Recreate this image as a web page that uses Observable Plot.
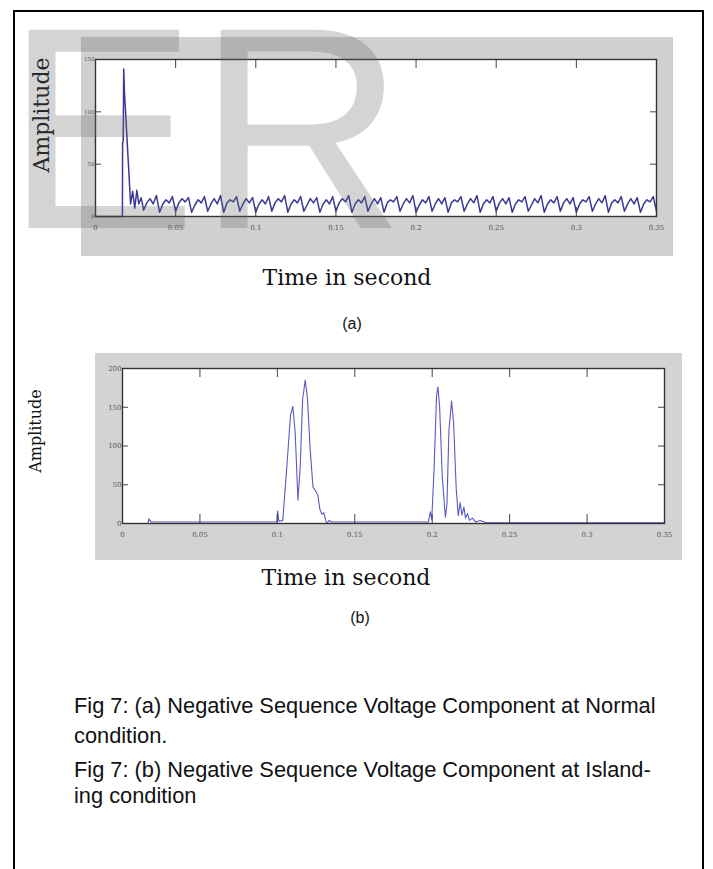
<!DOCTYPE html>
<html><head><meta charset="utf-8">
<script src="https://cdn.jsdelivr.net/npm/d3@7"></script>
<script src="https://cdn.jsdelivr.net/npm/@observablehq/plot@0.6"></script>
<style>
body{margin:0;background:#fff;}
#page{position:relative;width:713px;height:869px;overflow:hidden;background:#fff;}
.abs{position:absolute;}
.frame{left:13px;top:10px;width:687px;height:900px;border:2px solid #000;}
.serif{font-family:"DejaVu Serif",serif;color:#111;white-space:nowrap;line-height:1;}
.sans{font-family:"Liberation Sans",Arial,sans-serif;color:#111;white-space:nowrap;line-height:1;}
.c{transform:translate(-50%,-50%);}
.r{transform:translate(-50%,-50%) rotate(-90deg);}
</style></head><body><div id="page">
<div class="abs frame"></div>
<div id="chartA" class="abs" style="left:81px;top:37px;"></div>
<div id="chartB" class="abs" style="left:95px;top:353px;"></div>
<div class="abs serif r" style="left:42px;top:115px;font-size:22px;">Amplitude</div>
<div class="abs serif c" style="left:347px;top:278px;font-size:22px;">Time in second</div>
<div class="abs sans c" style="left:352px;top:324px;font-size:16px;">(a)</div>
<div class="abs serif r" style="left:36px;top:431px;font-size:16px;">Amplitude</div>
<div class="abs serif c" style="left:346px;top:578px;font-size:22px;">Time in second</div>
<div class="abs sans c" style="left:360px;top:618px;font-size:16px;">(b)</div>
<div class="abs sans" style="left:74px;top:695px;font-size:21.8px;">Fig 7: (a) Negative Sequence Voltage Component at Normal</div>
<div class="abs sans" style="left:74px;top:725px;font-size:21.8px;">condition.</div>
<div class="abs sans" style="left:74px;top:759px;font-size:21.8px;">Fig 7: (b) Negative Sequence Voltage Component at Island-</div>
<div class="abs sans" style="left:74px;top:785px;font-size:21.8px;">ing condition</div>
<svg class="abs" style="left:0;top:-50px;pointer-events:none;overflow:visible" width="713" height="360">
  <text x="5" y="278" font-family="Liberation Sans, Arial, sans-serif" font-size="288" fill="rgb(100,100,100)" fill-opacity="0.28">ER</text>
</svg>
</div>
<script>
// ---- shared axis ticks ----
const xTicks = [0, 0.05, 0.1, 0.15, 0.2, 0.25, 0.3, 0.35];
const xLabels = ["0", "0.05", "0.1", "0.15", "0.2", "0.25", "0.3", "0.35"];
const yTicksA = [0, 50, 100, 150];
const yLabelsA = ["0", "50", "100", "150"];
const yTicksB = [0, 50, 100, 150, 200];
const yLabelsB = ["0", "50", "100", "150", "200"];

// ---- Chart (a): normal condition ----
// initial transient (time s, amplitude)
const timeA0 = [0, 0.0168, 0.0169, 0.0173, 0.0176, 0.0181, 0.0219, 0.0232, 0.0245, 0.0258, 0.027, 0.0285];
const ampA0  = [0, 0,      70,     72,     141,    118,    12,     24,     8,      25,     12,    18];
// steady ripple sampled every 0.002 s from t = 0.030 s
const rippleStartA = 0.030;
const rippleStepA = 0.002;
const rippleA = [
  6,13,17,12,20, 4,12,16,13,19, 5,13,17,14,18, 4,11,16,13,19,
  5,12,17,12,20, 4,13,16,14,19, 5,12,17,13,18, 4,12,16,12,19,
  5,13,17,14,20, 4,12,16,13,19, 5,11,17,13,18, 4,12,16,12,19,
  5,13,17,14,20, 4,12,16,13,19, 5,12,17,12,18, 4,13,16,14,19,
  5,12,17,13,20, 4,11,16,13,19, 5,12,17,12,18, 4,13,16,14,19,
  5,12,17,13,20, 4,12,16,13,19, 5,13,17,12,18, 4,12,16,14,19,
  5,11,17,13,20, 4,12,16,13,19, 5,13,17,12,18, 4,12,16,14,19,
  5,12,17,13,20, 4,13,16,13,19, 5,12,17,12,18, 4,12,16,14,19,
  5
];

// ---- Chart (b): islanding condition ----
const timeB = [0, 0.0165, 0.017, 0.0185, 0.0995, 0.1002, 0.101, 0.1035, 0.106, 0.1085, 0.110, 0.1115, 0.1133, 0.1148, 0.1163, 0.118, 0.1195, 0.1212, 0.123, 0.1248, 0.1262, 0.1275, 0.1288, 0.130, 0.1312, 0.132, 0.1335, 0.135,
  0.1975, 0.1988, 0.1997, 0.2012, 0.2028, 0.2037, 0.2048, 0.2065, 0.2085, 0.2095, 0.2108, 0.2125, 0.2138, 0.2155, 0.2168, 0.218, 0.2192, 0.2205, 0.2215, 0.2228, 0.224, 0.226, 0.228, 0.231, 0.235, 0.35];
const ampB = [0, 0, 6, 2, 2, 16, 3, 4, 70, 140, 151, 118, 30, 75, 160, 185, 160, 95, 47, 42, 36, 18, 12, 14, 4, 0, 4, 2,
  2, 15, 5, 70, 165, 176, 150, 60, 8, 25, 120, 158, 130, 45, 10, 27, 11, 21, 7, 13, 4, 7, 2, 4, 1, 1];

const dataA = timeA0.map((t, i) => ({t, v: ampA0[i]}))
  .concat(rippleA.map((v, i) => ({t: rippleStartA + i * rippleStepA, v})));
const dataB = timeB.map((t, i) => ({t, v: ampB[i]}));

const lab = (ticks, labels) => d => labels[ticks.indexOf(d)] ?? "";

function matlabPlot(opts) {
  const {data, width, height, mL, mR, mT, mB, yDomain, yTicks, yLabels, stroke, strokeWidth, bg, yFont} = opts;
  const iw = width - mL - mR, ih = height - mT - mB;
  const tx = 9, ty = 6; // inward tick lengths
  return Plot.plot({
    width, height,
    marginLeft: mL, marginRight: mR, marginTop: mT, marginBottom: mB,
    style: {background: bg, fontFamily: "DejaVu Serif, serif", fontSize: "7px", color: "#555"},
    x: {domain: [0, 0.35], label: null},
    y: {domain: yDomain, label: null},
    marks: [
      Plot.frame({fill: "white", stroke: null}),
      Plot.line(data, {x: "t", y: "v", stroke, strokeWidth}),
      Plot.axisX({ticks: xTicks, tickFormat: lab(xTicks, xLabels), tickSize: 0, tickPadding: 9, label: null}),
      Plot.axisY({ticks: yTicks, tickFormat: lab(yTicks, yLabels), tickSize: 0, tickPadding: 1, fontSize: yFont, label: null}),
      // MATLAB-style inward ticks on all four sides
      Plot.ruleX(xTicks, {x: d => d, insetTop: ih - tx, stroke: "#444"}),
      Plot.ruleX(xTicks, {x: d => d, insetBottom: ih - tx, stroke: "#444"}),
      Plot.ruleY(yTicks, {y: d => d, insetRight: iw - ty, stroke: "#444"}),
      Plot.ruleY(yTicks, {y: d => d, insetLeft: iw - ty, stroke: "#444"}),
      Plot.frame({stroke: "#333", strokeWidth: 1.4})
    ]
  });
}

document.getElementById("chartA").append(matlabPlot({
  data: dataA, width: 592, height: 219, mL: 14, mR: 17, mT: 22, mB: 40,
  yDomain: [0, 150], yTicks: yTicksA, yLabels: yLabelsA, yFont: 5.5,
  stroke: "#3a3a96", strokeWidth: 1.5, bg: "#d0d0d0"
}));
document.getElementById("chartB").append(matlabPlot({
  data: dataB, width: 587, height: 207, mL: 27, mR: 18, mT: 15, mB: 37,
  yDomain: [0, 200], yTicks: yTicksB, yLabels: yLabelsB, yFont: 7,
  stroke: "#5a5ac4", strokeWidth: 1.1, bg: "#d3d3d3"
}));
</script>
</body></html>
